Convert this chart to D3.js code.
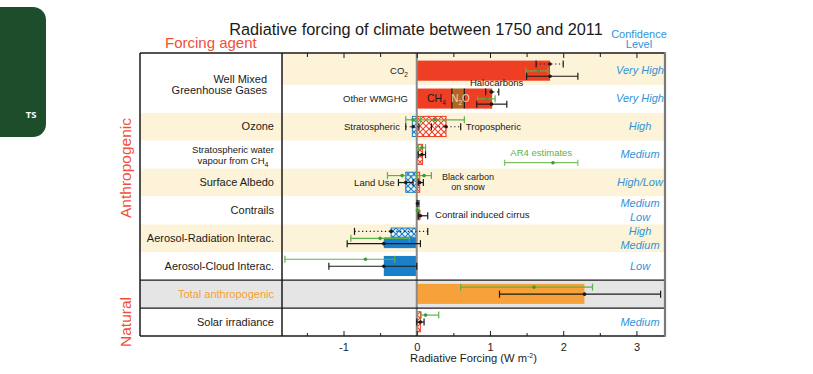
<!DOCTYPE html>
<html>
<head>
<meta charset="utf-8">
<script src="https://cdn.jsdelivr.net/npm/d3@7"></script>
<style>
body { margin: 0; background: #fff; }
svg { display: block; font-family: "Liberation Sans", Arial, sans-serif; }
</style>
</head>
<body>
<svg id="chart" width="813" height="374"></svg>
<script>
// rows of the chart, top to bottom
const rows = ["co2", "wmghg", "ozone", "h2o", "albedo", "contrails", "ari", "aci", "total", "solar"]
const rowShade = ["beige", "white", "beige", "white", "beige", "white", "beige", "white", "grey", "white"]
const rowLabels = [
  [], ["Well Mixed", "Greenhouse Gases"], ["Ozone"], ["Stratospheric water", "vapour from CH|4"],
  ["Surface Albedo"], ["Contrails"], ["Aerosol-Radiation Interac."], ["Aerosol-Cloud Interac."],
  ["Total anthropogenic"], ["Solar irradiance"]
]
const confidence = [
  ["Very High"], ["Very High"], ["High"], ["Medium"], ["High/Low"],
  ["Medium", "Low"], ["High", "Medium"], ["Low"], [], ["Medium"]
]

// bars (W m-2): kind "erf" = solid, "rf" = hatched
const bars = [
  {row: "co2", comp: "CO2", from: 0, to: 1.82, kind: "erf", slot: "full"},
  {row: "wmghg", comp: "CH4", from: 0, to: 0.48, kind: "erf", slot: "full"},
  {row: "wmghg", comp: "N2O", from: 0.48, to: 0.65, kind: "erf", slot: "full"},
  {row: "wmghg", comp: "Halocarbons", from: 0.65, to: 1.03, kind: "erf", slot: "full"},
  {row: "ozone", comp: "Stratospheric", from: -0.06, to: 0, kind: "rf", slot: "full"},
  {row: "ozone", comp: "Tropospheric", from: 0, to: 0.40, kind: "rf", slot: "full"},
  {row: "h2o", comp: "H2O", from: 0, to: 0.08, kind: "rf", slot: "full"},
  {row: "albedo", comp: "Land Use", from: -0.15, to: 0, kind: "rf", slot: "full"},
  {row: "albedo", comp: "BC snow", from: 0, to: 0.04, kind: "rf", slot: "full"},
  {row: "contrails", comp: "Contrails", from: 0, to: 0.01, kind: "rf", slot: "upper"},
  {row: "contrails", comp: "Cirrus", from: 0, to: 0.05, kind: "erf", slot: "lower"},
  {row: "ari", comp: "RFari", from: -0.35, to: 0, kind: "rf", slot: "upper"},
  {row: "ari", comp: "ERFari", from: -0.45, to: 0, kind: "erf", slot: "lower"},
  {row: "aci", comp: "ERFaci", from: -0.45, to: 0, kind: "erf", slot: "full"},
  {row: "total", comp: "Total", from: 0, to: 2.29, kind: "erf", slot: "full"},
  {row: "solar", comp: "Solar", from: 0, to: 0.05, kind: "rf", slot: "full"}
]

// uncertainty ranges: kind "rf" = dotted black, "ar4" = green, "erf" = solid black
const errors = [
  {row: "co2", lo: 1.63, mid: 1.82, hi: 2.00, kind: "rf", slot: 0},
  {row: "co2", lo: 1.49, mid: 1.66, hi: 1.79, kind: "ar4", slot: 1},
  {row: "co2", lo: 1.50, mid: 1.82, hi: 2.20, kind: "erf", slot: 2},
  {row: "wmghg", lo: 0.94, mid: 1.02, hi: 1.12, kind: "rf", slot: 0},
  {row: "wmghg", lo: 0.83, mid: 0.96, hi: 1.07, kind: "ar4", slot: 1},
  {row: "wmghg", lo: 0.82, mid: 1.02, hi: 1.23, kind: "erf", slot: 2},
  {row: "ozone", lo: -0.15, mid: -0.05, hi: 0.05, kind: "ar4", slot: 0},
  {row: "ozone", lo: 0.05, mid: 0.25, hi: 0.65, kind: "ar4", slot: 0},
  {row: "ozone", lo: -0.15, mid: -0.05, hi: 0.03, kind: "rf", slot: 1},
  {row: "ozone", lo: 0.20, mid: 0.40, hi: 0.60, kind: "rf", slot: 1},
  {row: "h2o", lo: 0.02, mid: 0.07, hi: 0.12, kind: "ar4", slot: 0},
  {row: "h2o", lo: 0.02, mid: 0.07, hi: 0.12, kind: "erf", slot: 1},
  {row: "albedo", lo: -0.40, mid: -0.20, hi: 0.00, kind: "ar4", slot: 0},
  {row: "albedo", lo: 0.00, mid: 0.10, hi: 0.20, kind: "ar4", slot: 0},
  {row: "albedo", lo: -0.25, mid: -0.15, hi: -0.05, kind: "erf", slot: 1},
  {row: "albedo", lo: 0.02, mid: 0.04, hi: 0.09, kind: "erf", slot: 1},
  {row: "contrails", lo: 0.005, mid: 0.01, hi: 0.03, kind: "erf", slot: 0},
  {row: "contrails", lo: 0.003, mid: 0.01, hi: 0.03, kind: "ar4", slot: 1},
  {row: "contrails", lo: 0.02, mid: 0.05, hi: 0.15, kind: "erf", slot: 2},
  {row: "ari", lo: -0.85, mid: -0.35, hi: 0.15, kind: "rf", slot: 0},
  {row: "ari", lo: -0.90, mid: -0.50, hi: -0.10, kind: "ar4", slot: 1},
  {row: "ari", lo: -0.95, mid: -0.45, hi: 0.05, kind: "erf", slot: 2},
  {row: "aci", lo: -1.80, mid: -0.70, hi: -0.30, kind: "ar4", slot: 0},
  {row: "aci", lo: -1.20, mid: -0.45, hi: 0.00, kind: "erf", slot: 1},
  {row: "total", lo: 0.60, mid: 1.60, hi: 2.40, kind: "ar4", slot: 0},
  {row: "total", lo: 1.13, mid: 2.29, hi: 3.33, kind: "erf", slot: 1},
  {row: "solar", lo: 0.06, mid: 0.12, hi: 0.30, kind: "ar4", slot: 0},
  {row: "solar", lo: 0.00, mid: 0.05, hi: 0.10, kind: "erf", slot: 1}
]

const xTicks = [-1, 0, 1, 2, 3]
const xMinorTicks = [-1.5, -0.5, 0.5, 1.5, 2.5]

const svg = d3.select("#chart")
const frame = {left: 140, divider: 282, right: 665, top: 53, bottom: 336}

const x = d3.scaleLinear().domain([-1.84, 3.39]).range([frame.divider, frame.right])
const y = d3.scaleBand().domain(rows).range([57, frame.bottom])
const bw = y.bandwidth()

const red = "#ee3f24", blue = "#1a7fc9", green = "#5cb247", ink = "#1a1a1a"
const shadeColour = {beige: "#fcf3d8", white: "#ffffff", grey: "#e5e5e6"}

// hatch patterns for RF bars
const defs = svg.append("defs")
function hatch(id, col, bg) {
  const p = defs.append("pattern").attr("id", id)
    .attr("patternUnits", "userSpaceOnUse").attr("width", 6).attr("height", 6)
  p.append("rect").attr("width", 6).attr("height", 6).attr("fill", bg)
  p.append("path").attr("d", "M0,0L6,6M6,0L0,6").attr("stroke", col).attr("stroke-width", 1.1)
}
hatch("hatchRed", red, "#fff")
hatch("hatchBlue", blue, "#eef5fb")

// side tab
svg.append("rect").attr("x", -14).attr("y", 7).attr("width", 60).attr("height", 130)
  .attr("rx", 13).attr("fill", "#1d4d2a")
svg.append("text").attr("x", 31).attr("y", 118).attr("text-anchor", "middle")
  .attr("font-family", "'Open Sans', sans-serif").attr("font-weight", 700)
  .attr("font-size", 9.5).attr("fill", "#fff").text("TS")

// row backgrounds
rows.forEach((r, i) => {
  const rowTop = i === 0 ? frame.top : y(r)
  const h = y(r) + bw - rowTop
  svg.append("rect").attr("x", frame.divider).attr("y", rowTop)
    .attr("width", frame.right - frame.divider).attr("height", h)
    .attr("fill", shadeColour[rowShade[i]])
  // the well mixed GHG label cell spans two rows and is left white
  const labelShade = i < 2 ? "white" : rowShade[i]
  svg.append("rect").attr("x", frame.left).attr("y", rowTop)
    .attr("width", frame.divider - frame.left).attr("height", h)
    .attr("fill", shadeColour[labelShade])
})

// text with "|" marking a subscript
function richText(sel, str, subSize) {
  const parts = str.split("|")
  sel.append("tspan").text(parts[0])
  for (let k = 1; k < parts.length; k++) {
    sel.append("tspan").attr("dy", 3).attr("font-size", subSize).text(parts[k].slice(0, 1))
    if (parts[k].length > 1) sel.append("tspan").attr("dy", -3).text(parts[k].slice(1))
  }
}

// row labels
rowLabels.forEach((lines, i) => {
  if (!lines.length) return
  const r = rows[i]
  let cy = y(r) + bw / 2, anchor = "end", lx = frame.divider - 8
  if (r === "wmghg") { cy = y(r); lx = frame.divider - 15 }
  if (r === "h2o") { anchor = "middle"; lx = 233 }
  const n = lines.length
  lines.forEach((line, j) => {
    const t = svg.append("text").attr("x", lx)
      .attr("y", cy + 3.5 + (j - (n - 1) / 2) * (r === "h2o" ? 11 : 11.5))
      .attr("text-anchor", anchor)
      .attr("font-size", r === "h2o" ? 9.5 : 11)
      .attr("fill", r === "total" ? "#f5a030" : ink)
    richText(t, line, 7)
  })
})

// confidence level
confidence.forEach((lines, i) => {
  const cy = y(rows[i]) + bw / 2
  const n = lines.length
  lines.forEach((line, j) => {
    svg.append("text").attr("x", frame.right - 25)
      .attr("y", cy + 3.5 + (j - (n - 1) / 2) * 13.5)
      .attr("text-anchor", "middle").attr("font-size", 11).attr("font-style", "italic")
      .attr("fill", "#2f93d8").text(line)
  })
})

// bars
const slotBand = {full: [0.13, 0.85], upper: [0.13, 0.46], lower: [0.47, 0.85]}
function barFill(d) {
  if (d.kind === "rf") return d.to > 0 ? "url(#hatchRed)" : "url(#hatchBlue)"
  if (d.comp === "N2O") return "#b4661f"
  if (d.comp === "Total") return "#f7a13a"
  return d.to > 0 ? red : blue
}
svg.append("g").selectAll("rect")
  .data(bars)
  .join("rect")
    .attr("x", d => x(d.from))
    .attr("width", d => x(d.to) - x(d.from))
    .attr("y", d => y(d.row) + slotBand[d.slot][0] * bw)
    .attr("height", d => (slotBand[d.slot][1] - slotBand[d.slot][0]) * bw)
    .attr("fill", barFill)
    .attr("stroke", d => d.kind === "rf" ? (d.to > 0 ? red : blue) : "none")
    .attr("stroke-width", 1)

// segment dividers inside the stacked bar
svg.append("g").selectAll("line")
  .data(bars.filter(d => d.from > 0))
  .join("line")
    .attr("x1", d => x(d.from)).attr("x2", d => x(d.from))
    .attr("y1", d => y(d.row) + slotBand[d.slot][0] * bw)
    .attr("y2", d => y(d.row) + slotBand[d.slot][1] * bw)
    .attr("stroke", ink).attr("stroke-width", 1.2)

// zero line
svg.append("line").attr("x1", x(0)).attr("x2", x(0))
  .attr("y1", frame.top).attr("y2", frame.bottom)
  .attr("stroke", "#8a8a8a").attr("stroke-width", 2)

// error bars
const slotY = [0.25, 0.5, 0.69]
const errs = svg.append("g").selectAll("g")
  .data(errors)
  .join("g")
    .attr("transform", d => "translate(0," + (y(d.row) + slotY[d.slot] * bw) + ")")
    .attr("stroke", d => d.kind === "ar4" ? green : ink)
    .attr("stroke-width", 1.2)
errs.append("line")
  .attr("x1", d => x(d.lo)).attr("x2", d => x(d.hi))
  .attr("stroke-dasharray", d => d.kind === "rf" ? "1.2,2.6" : null)
errs.append("line")
  .attr("x1", d => x(d.lo)).attr("x2", d => x(d.lo)).attr("y1", -3.5).attr("y2", 3.5)
errs.append("line")
  .attr("x1", d => x(d.hi)).attr("x2", d => x(d.hi)).attr("y1", -3.5).attr("y2", 3.5)
errs.append("circle")
  .attr("cx", d => x(d.mid)).attr("r", 1.8)
  .attr("stroke", "none")
  .attr("fill", d => d.kind === "ar4" ? "#3f9a35" : ink)

// annotations in the plot
const notes = [
  {row: "co2", at: -0.12, dy: 3.5, anchor: "end", text: "CO|2"},
  {row: "wmghg", at: -0.12, dy: 3.5, anchor: "end", text: "Other WMGHG"},
  {row: "wmghg", at: 1.09, dy: -12.4, anchor: "middle", text: "Halocarbons"},
  {row: "wmghg", at: 0.14, dy: 3, anchor: "start", text: "CH|4", size: 10.5},
  {row: "wmghg", at: 0.47, dy: 3, anchor: "start", text: "N|2O", size: 10, fill: "#f1d6b4"},
  {row: "ozone", at: -0.23, dy: 3.5, anchor: "end", text: "Stratospheric"},
  {row: "ozone", at: 0.67, dy: 3.5, anchor: "start", text: "Tropospheric"},
  {row: "albedo", at: -0.30, dy: 3.5, anchor: "end", text: "Land Use"},
  {row: "albedo", at: 0.70, dy: -3, anchor: "middle", text: "Black carbon", size: 9},
  {row: "albedo", at: 0.70, dy: 7.5, anchor: "middle", text: "on snow", size: 9},
  {row: "contrails", at: 0.25, dy: 8, anchor: "start", text: "Contrail induced cirrus"}
]
notes.forEach(n => {
  const t = svg.append("text").attr("x", x(n.at)).attr("y", y(n.row) + bw / 2 + n.dy)
    .attr("text-anchor", n.anchor).attr("font-size", n.size || 9.5)
    .attr("fill", n.fill || ink)
  richText(t, n.text, 6.5)
})

// AR4 legend
const legY = y("h2o")
svg.append("text").attr("x", x(1.70)).attr("y", legY + 15.5)
  .attr("text-anchor", "middle").attr("font-size", 9.5).attr("fill", green).text("AR4 estimates")
const leg = svg.append("g").attr("stroke", "#7cc061").attr("stroke-width", 1.2)
leg.append("line").attr("x1", x(1.2)).attr("x2", x(2.2)).attr("y1", legY + 22).attr("y2", legY + 22)
leg.append("line").attr("x1", x(1.2)).attr("x2", x(1.2)).attr("y1", legY + 19).attr("y2", legY + 25)
leg.append("line").attr("x1", x(2.2)).attr("x2", x(2.2)).attr("y1", legY + 19).attr("y2", legY + 25)
svg.append("circle").attr("cx", x(1.86)).attr("cy", legY + 22).attr("r", 1.8).attr("fill", "#3f9a35")

// frame
const fr = svg.append("g").attr("stroke", ink).attr("stroke-width", 1.5)
fr.append("line").attr("x1", frame.left).attr("x2", frame.right).attr("y1", frame.top).attr("y2", frame.top)
fr.append("line").attr("x1", frame.left).attr("x2", frame.right).attr("y1", frame.bottom).attr("y2", frame.bottom)
fr.append("line").attr("x1", frame.left).attr("x2", frame.left).attr("y1", frame.top).attr("y2", frame.bottom)
fr.append("line").attr("x1", frame.divider).attr("x2", frame.divider).attr("y1", frame.top).attr("y2", frame.bottom)
;["total", "solar"].forEach(r => {
  fr.append("line").attr("x1", frame.left).attr("x2", frame.right)
    .attr("y1", y(r)).attr("y2", y(r)).attr("stroke-width", 1.2)
})
svg.append("line").attr("x1", frame.right).attr("x2", frame.right)
  .attr("y1", frame.top - 0.75).attr("y2", frame.bottom + 0.75)
  .attr("stroke", "#7a7a7a").attr("stroke-width", 2.2)

// axes
const bottomAxis = svg.append("g").attr("transform", "translate(0," + frame.bottom + ")")
bottomAxis.call(d3.axisBottom(x).tickValues(xTicks).tickSize(-5).tickPadding(7).tickFormat(d => String(d)))
bottomAxis.append("g").call(d3.axisBottom(x).tickValues(xMinorTicks).tickSize(-3).tickFormat(""))
bottomAxis.selectAll(".domain").remove()
bottomAxis.selectAll("text").attr("font-size", 11).attr("fill", ink).attr("font-family", null)
bottomAxis.selectAll("line").attr("stroke", ink)

const topAxis = svg.append("g").attr("transform", "translate(0," + frame.top + ")")
topAxis.call(d3.axisTop(x).tickValues(xTicks).tickSize(-5).tickFormat(""))
topAxis.append("g").call(d3.axisTop(x).tickValues(xMinorTicks).tickSize(-4).tickFormat(""))
topAxis.selectAll(".domain").remove()
topAxis.selectAll("line").attr("stroke", ink)

const axTitle = svg.append("text").attr("x", (frame.divider + frame.right) / 2).attr("y", 362)
  .attr("text-anchor", "middle").attr("font-size", 11.2).attr("fill", ink)
axTitle.append("tspan").text("Radiative Forcing (W m")
axTitle.append("tspan").attr("dy", -4).attr("font-size", 7).text("-2")
axTitle.append("tspan").attr("dy", 4).text(")")

// titles
svg.append("text").attr("x", 416).attr("y", 35).attr("text-anchor", "middle")
  .attr("font-size", 16.3).attr("fill", ink).text("Radiative forcing of climate between 1750 and 2011")
svg.append("text").attr("x", 165).attr("y", 48).attr("font-size", 15).attr("fill", "#f0503a")
  .text("Forcing agent")
svg.append("text").attr("x", 639).attr("y", 37.5).attr("text-anchor", "middle")
  .attr("font-size", 11).attr("fill", "#2f93d8").text("Confidence")
svg.append("text").attr("x", 639).attr("y", 48).attr("text-anchor", "middle")
  .attr("font-size", 11).attr("fill", "#2f93d8").text("Level")

// group labels at the left
svg.append("text").attr("transform", "translate(131," + 168 + ")rotate(-90)")
  .attr("text-anchor", "middle").attr("font-size", 15.5).attr("fill", "#f0503a").text("Anthropogenic")
svg.append("text").attr("transform", "translate(131," + 322 + ")rotate(-90)")
  .attr("text-anchor", "middle").attr("font-size", 15.5).attr("fill", "#f0503a").text("Natural")
</script>
</body>
</html>
